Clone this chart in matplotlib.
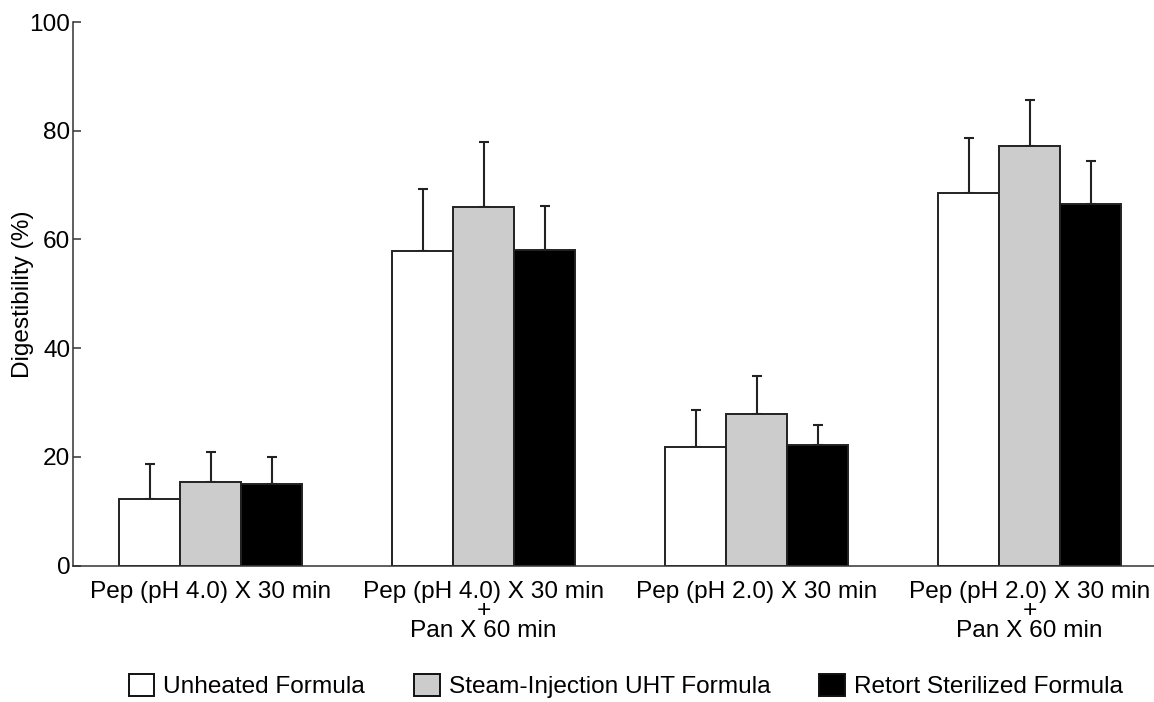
import matplotlib
matplotlib.use('Agg')
from matplotlib import pyplot as plt
from matplotlib.patches import Patch
import numpy as np

plt.rcParams['font.family'] = ['Liberation Sans', 'DejaVu Sans']

groups = ['Pep (pH 4.0) X 30 min',
          'Pep (pH 4.0) X 30 min\n+\nPan X 60 min',
          'Pep (pH 2.0) X 30 min',
          'Pep (pH 2.0) X 30 min\n+\nPan X 60 min']
series = ['Unheated Formula', 'Steam-Injection UHT Formula', 'Retort Sterilized Formula']
colors = ['#ffffff', '#cccccc', '#000000']

unheated = [12.3, 57.9, 21.9, 68.5]
unheated_sd = [6.3, 11.4, 6.8, 10.1]
uht = [15.3, 66.0, 27.8, 77.2]
uht_sd = [5.5, 11.9, 7.1, 8.4]
retort = [15.0, 58.1, 22.2, 66.5]
retort_sd = [5.0, 8.0, 3.7, 8.0]

vals = [unheated, uht, retort]
sds = [unheated_sd, uht_sd, retort_sd]

fs = 17.6

fig = plt.figure(figsize=(11.54, 7.02), dpi=100)
ax = fig.add_axes([0.0633, 0.1944, 0.9367, 0.7742])

x = np.arange(len(groups))
w = 0.2234
for i in range(3):
    ax.bar(x + (i - 1) * w, vals[i], w, color=colors[i], edgecolor='#222222',
           linewidth=1.4, zorder=2,
           yerr=[np.zeros(len(groups)), sds[i]],
           error_kw=dict(ecolor='#222222', elinewidth=1.5, capsize=3.6, capthick=1.5, zorder=1))

ax.set_xlim(-0.504, 3.456)
ax.set_ylim(0, 100)
ax.set_yticks([0, 20, 40, 60, 80, 100])
ax.set_xticks(x)
ax.set_xticklabels(groups, linespacing=0.86)
ax.tick_params(axis='x', length=0, pad=11, labelsize=fs)
ax.tick_params(axis='y', direction='in', length=6, width=1.1, color='#333333', pad=2, labelsize=fs)
ax.set_ylabel('Digestibility (%)', fontsize=fs, labelpad=-3)

for s in ['top', 'right']:
    ax.spines[s].set_visible(False)
for s in ['left', 'bottom']:
    ax.spines[s].set_linewidth(1.1)
    ax.spines[s].set_color('#333333')

handles = [Patch(facecolor=c, edgecolor='#111111', linewidth=1.4) for c in colors]
fig.legend(handles, series, loc='center', bbox_to_anchor=(0.5424, 0.0228), ncol=3,
           frameon=False, fontsize=fs, handlelength=1.05, handleheight=1.05,
           handletextpad=0.37, columnspacing=2.0, borderpad=0)

plt.savefig('out.png', dpi=100)
